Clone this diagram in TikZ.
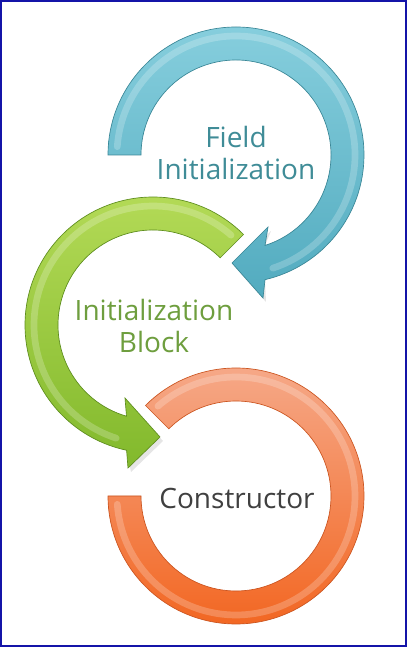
\documentclass[tikz,border=0pt]{standalone}
\usepackage{fontspec}
\setmainfont{Open Sans}
\usetikzlibrary{calc}
\definecolor{blueT}{HTML}{86CEDD}
\definecolor{blueB}{HTML}{52ABBF}
\definecolor{blueD}{HTML}{3A8797}
\definecolor{greenT}{HTML}{B5DB58}
\definecolor{greenB}{HTML}{82B92C}
\definecolor{greenD}{HTML}{5E8E1E}
\definecolor{orangeT}{HTML}{F6AB8C}
\definecolor{orangeB}{HTML}{F2641E}
\definecolor{orangeD}{HTML}{CC5520}
\definecolor{txtBlue}{HTML}{3F8C97}
\definecolor{txtGreen}{HTML}{6E9E3E}
\definecolor{txtGray}{HTML}{404040}
\definecolor{frame}{HTML}{1414A8}
\tikzset{
  label/.style={align=center,font=\fontsize{21}{24}\selectfont,inner sep=0pt},
  shadowshape/.style={fill=black,opacity=0.10},
  hilite/.style={draw=white,opacity=0.22,line width=5pt,line cap=round},
}
\begin{document}
\begin{tikzpicture}[x=0.75pt,y=0.75pt]
\useasboundingbox (0,0) rectangle (407,647);
\fill[white] (0,0) rectangle (407,647);
\coordinate (cb) at (236,492);
\coordinate (cg) at (153,322);
\coordinate (co) at (236,151);
\def\bluepath{($(cb)+(180:128)$) arc[start angle=180,end angle=-76.9,radius=128]
 -- (263,349) -- (232,384) -- (268,420)
 -- ($(cb)+(-72.2:95)$) arc[start angle=-72.2,end angle=180,radius=95] -- cycle}
\def\greenpath{($(cg)+(45:128)$) arc[start angle=45,end angle=258.1,radius=128]
 -- (128,179) -- (160,210) -- (125,249)
 -- ($(cg)+(253.8:95)$) arc[start angle=253.8,end angle=45,radius=95] -- cycle}
\def\orangepath{($(co)+(135:128)$) arc[start angle=135,end angle=-180,radius=128]
 -- ($(co)+(180:95)$) arc[start angle=-180,end angle=135,radius=95] -- cycle}
% shadows
\begin{scope}[shift={(3,-4)}]
\fill[shadowshape] \orangepath;
\fill[shadowshape] \greenpath;
\fill[shadowshape] \bluepath;
\end{scope}
% orange ring
\path[top color=orangeT,bottom color=orangeB,draw=orangeD,line width=0.5pt] \orangepath;
\draw[hilite] ($(co)+(131:119)$) arc[start angle=131,end angle=-176,radius=119];
% green arrow
\path[top color=greenT,bottom color=greenB,draw=greenD,line width=0.5pt] \greenpath;
\draw[hilite] ($(cg)+(49:119)$) arc[start angle=49,end angle=252,radius=119];
% blue arrow
\path[top color=blueT,bottom color=blueB,draw=blueD,line width=0.5pt] \bluepath;
\draw[hilite] ($(cb)+(176:119)$) arc[start angle=176,end angle=-72,radius=119];
% labels
\node[label,text=txtBlue] (field) at (236,494) {Field\\Initialization};
\node[label,text=txtGreen] (block) at (154,321) {Initialization\\Block};
\node[label,text=txtGray] (ctor) at (237,149) {Constructor};
% frame
\draw[frame,line width=1.5pt] (1,1) rectangle (406,646);
\end{tikzpicture}
\end{document}
